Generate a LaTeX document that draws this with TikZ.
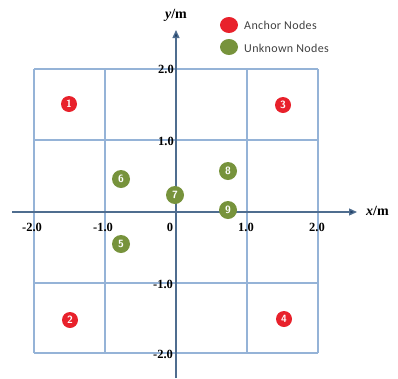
\documentclass[tikz,border=0pt]{standalone}
\usepackage{fontspec}
\setmainfont{Liberation Serif}
\newfontfamily\legfont[LetterSpace=3]{Carlito}
\usetikzlibrary{arrows.meta,shapes.geometric}
\definecolor{gridc}{HTML}{95B3D7}
\definecolor{axisc}{HTML}{4F6D8F}
\definecolor{arrc}{HTML}{1F3F66}
\definecolor{redc}{HTML}{E8212B}
\definecolor{grnc}{HTML}{77933C}
\definecolor{legc}{HTML}{404040}
\tikzset{
  anchorn/.style={circle,fill=redc,minimum size=16pt,inner sep=0pt,text=white,font=\sffamily\bfseries\fontsize{10.5}{10.5}\selectfont},
  unkn/.style={circle,fill=grnc,minimum size=18pt,inner sep=0pt,text=white,font=\sffamily\bfseries\fontsize{10.5}{10.5}\selectfont},
  tick/.style={font=\bfseries\fontsize{12.5}{12.5}\selectfont,inner sep=0pt},
  gridl/.style={draw=gridc,line width=1.2pt},
  axisl/.style={draw=axisc,line width=1.3pt,-{Triangle[length=8pt,width=7pt,fill=arrc]}},
  legt/.style={font=\legfont\fontsize{12}{12}\selectfont,text=legc,anchor=west,inner sep=0pt}
}
\begin{document}
\begin{tikzpicture}[x=1pt,y=-1pt]
\useasboundingbox (0,0) rectangle (398,378);
% grid
\foreach \x in {34,105,176,247,318} \draw[gridl] (\x,69) -- (\x,353);
\foreach \y in {69,140,212,283,353} \draw[gridl] (34,\y) -- (318,\y);
% axes
\coordinate (xs) at (12,212); \coordinate (xe) at (357,212);
\coordinate (ys) at (176,378); \coordinate (ye) at (176,30);
\draw[axisl] (xs) -- (xe);
\draw[axisl] (ys) -- (ye);
\node[font=\bfseries\fontsize{14}{14}\selectfont,anchor=west,inner sep=0pt] (xl) at (366,211) {\textit{x}/m};
\node[font=\bfseries\fontsize{14}{14}\selectfont,inner sep=0pt] (yl) at (176,15) {\textit{y}/m};
% tick labels
\node[tick] (t1) at (166,69) {2.0};
\node[tick] (t2) at (166,141) {1.0};
\node[tick] (t3) at (163,284) {-1.0};
\node[tick] (t4) at (163,354) {-2.0};
\node[tick] (t5) at (32,227) {-2.0};
\node[tick] (t6) at (103,227) {-1.0};
\node[tick] (t7) at (170,227) {0};
\node[tick] (t8) at (246,227) {1.0};
\node[tick] (t9) at (317,227) {2.0};
% nodes
\node[anchorn] (n1) at (69,104) {1};
\node[anchorn] (n2) at (70,320) {2};
\node[anchorn] (n3) at (283,105) {3};
\node[anchorn] (n4) at (284,319) {4};
\node[unkn] (n5) at (121,244) {5};
\node[unkn] (n6) at (121,179) {6};
\node[unkn] (n7) at (175,195) {7};
\node[unkn] (n8) at (228,171) {8};
\node[unkn] (n9) at (228,210) {9};
% legend
\node[ellipse,fill=redc,minimum width=18pt,minimum height=16pt,inner sep=0pt] (lr) at (229,25) {};
\node[ellipse,fill=grnc,minimum width=18pt,minimum height=16pt,inner sep=0pt] (lg) at (229,47) {};
\node[legt] (la) at (244,25) {Anchor Nodes};
\node[legt] (lu) at (244,48) {Unknown Nodes};
\end{tikzpicture}
\end{document}
